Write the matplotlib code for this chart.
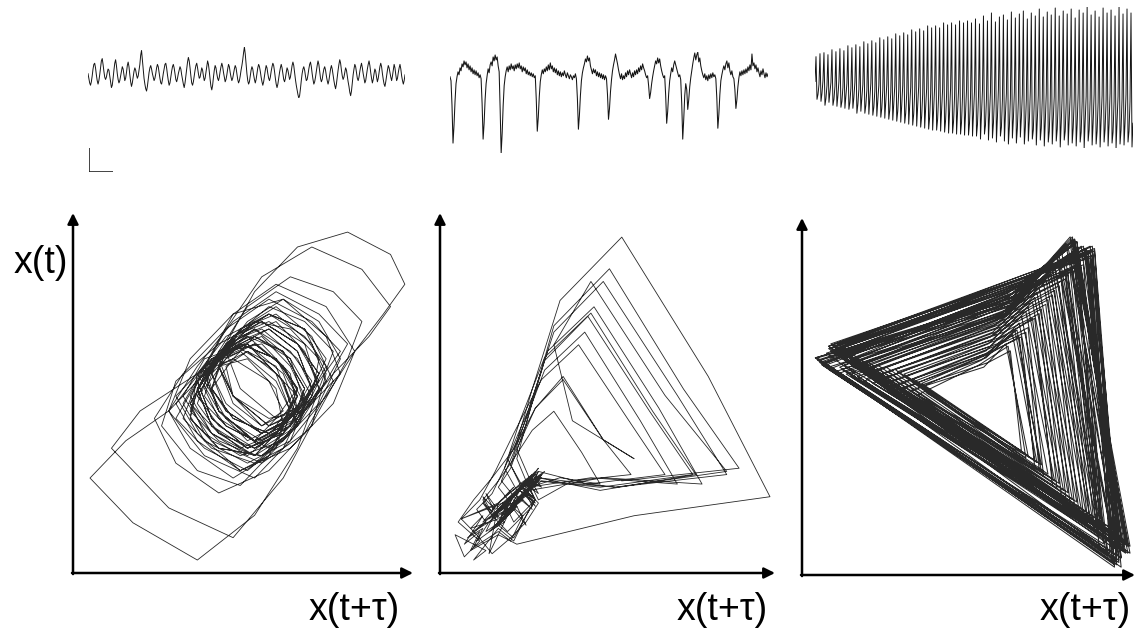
import numpy as np
import matplotlib
matplotlib.use("Agg")
import matplotlib.pyplot as plt

# ---------------- data (read/estimated from the picture) ----------------
# physical sign: positive = downward deflection on the traces (EEG convention)
trace_interictal = [
    0, 4, 8, 10, 7, 2, -4, -8, -9, -5,
    1, 6, 9, 6, 1, -5, -11, -13, -8, -2,
    3, 5, 3, -1, -4, -3, 2, 7, 12, 10, 4,
    -3, -9, -12, -7, 0, 5, 8, 6, 2, -2, -6, -4,
    1, 6, 4, -1, -7, -10, -6, 1, 7, 11, 8, 3,
    -2, -5, -3, 1, 4, 2, -3, -8, -16, -20, -12, -3,
    4, 9, 13, 15, 11, 5, -1, -5, -7, -4, 0,
    3, 6, 4, 0, -5, -8, -6, -1, 4, 8, 9, 5,
    0, -4, -8, -9, -5, 1, 6, 10, 8, 3, -2, -6, -8,
    -5, 0, 5, 7, 4, 0, -3, -6, -4, 1, 5, 9, 12, 8,
    2, -4, -10, -14, -11, -5, 2, 8, 10, 7, 2, -3,
    -7, -9, -5, 0, 4, 3, -1, -5, -3, 2, 6, 4, -1,
    -6, -11, -8, -2, 5, 11, 14, 10, 3, -3, -7, -5,
    0, 4, 6, 3, -2, -6, -9, -6, -1, 3, 7, 5, 1, -4,
    -8, -6, -1, 3, 6, 4, 0, -4, -7, -5, 0, 5, 8, 6,
    2, -3, -7, -12, -18, -23, -17, -8, 0, 6, 9, 7, 2,
    -3, -6, -4, 1, 5, 8, 5, 0, -5, -8, -6, -2, 3,
    7, 10, 7, 2, -3, -7, -5, 0, 4, 6, 3, -2, -6,
    -9, -7, -2, 4, 9, 12, 9, 4, -1, -5, -8, -5,
    0, 5, 7, 4, -1, -5, -3, 1, 5, 3, -2, -7, -10, -7,
    -1, 5, 10, 14, 18, 21, 19, 13, 6, 0, -4, -6, -3,
    2, 6, 5, 1, -4, -8, -10, -6, 0, 5, 9, 7, 3,
    -2, -7, -11, -8, -2, 4, 7, 5, 0, -4, -6, -3, 2,
    6, 9, 6, 1, -4, -7, -4, 1, 6, 10, 13, 9, 3,
    -3, -8, -12, -9, -3, 2, 5, 3, -1, -5, -3, 2, 7,
    11, 16, 19, 15, 8, 1, -4, -8, -6, -1, 4, 6, 3,
    -2, -6, -9, -5, 0, 4, 8, 6, 1, -4, -8, -11, -7,
    -1, 4, 8, 5, 0, -4, -2, 3, 7, 4, -1, -6, -9, -6,
    0, 5, 9, 11, 7, 2, -3, -7, -5, -1, 3, 6, 2, -3,
    -8, -5, 1, 6, 4, -1, -5, -8, -4, 2, 6, 9, 6, 1,
]

trace_spikes = [
    3, 7,
    32, 70, 52, 28, 10,
    3, -2, 1, -6, -3, -10, -7, -13, -9, -12, -6, -10, -4, -8, -2, -6, 0, -4, 1, -3,
    2, -1, 4, 1, 5,
    30, 66, 50, 26, 10,
    2, -5, -1, -9, -12, -8, -17, -13, -19, -14, -17, -8, -2,
    36, 80, 60, 32, 12,
    3, -3, -7, -2, -8, -4, -10, -5, -8, -3, -9, -5, -10, -6, -11, -5, -8, -2, -7, -3,
    -6, 0, -4, 1, -2, 2, -1, 3, 0, 4, 2,
    26, 58, 44, 23, 8,
    1, -4, 0, -5, -2, -7, -3, -9, -4, -11, -5, -8, -2, -6, -1, -5, 1, -3, 2, -2,
    3, -1, 2, -3, 1, 4, -1, 2, 5, 1, 3, 6, 2, 4, 0, 5,
    25, 56, 42, 22, 7,
    -1, -6, -10, -15, -12, -18, -13, -16, -8, -4, 0, -5, -1, -4, 2, -2, 3, -1, 4, 0,
    5, 1, 6, 2, 5,
    21, 46, 35, 18, 6,
    -3, -9, -14, -20, -15, -10, -4, 1, 5, 0, 6, 2, 5, -1, 3, -3, 1, -4, 0, 4,
    -1, 3, -3, 1, -4, 0, -6, -2, -8, -4, -10, -6, -3, 1, 4, 2,
    12, 25, 19, 10, 3,
    -3, -8, -13, -10, -16, -11, -15, -8, -3, 1, 4, 2,
    22, 50, 38, 20, 7,
    0, -6, -2, -9, -13, -9, -5, -1, 3, 1, 6,
    30, 66, 46, 22,
    10, 16, 36, 26, 13, 4,
    -3, -10, -16, -21, -14, -19, -22, -12, -16, -8, -3, 1, 4, 0, 6, 2, 7, 1, 5, 0,
    4, -1, 3, 1, 5,
    25, 55, 41, 21, 7,
    1, -4, -8, -4, -10, -13, -6, -11, -3, 1, -3, 3, 5,
    16, 35, 26, 13, 4,
    -2, 2, -3, 1, -4, 0, -5, -1, -7, -3, -9, -4, -20, -8, -11, -5, -9, -2, -6, -1,
    3, -3, 1, -5, 0, 4, -1, 3, 0,
]

trace_seizure = [
    3, -22, 21, 16, 6, -25, 23, 15, 2, -26, 27, 20, 7, -24, 24, 14,
    4, -29, 27, 21, 8, -27, 28, 17, 3, -30, 29, 23, 9, -28, 30, 18,
    5, -33, 31, 24, 10, -31, 30, 19, 4, -34, 35, 26, 11, -32, 33, 20,
    6, -37, 35, 27, 12, -35, 36, 21, 5, -38, 37, 29, 13, -36, 38, 23,
    7, -41, 39, 30, 12, -39, 40, 24, 6, -42, 41, 32, 14, -40, 42, 26,
    8, -45, 43, 33, 13, -43, 44, 27, 7, -46, 45, 35, 15, -44, 46, 28,
    9, -49, 47, 36, 14, -47, 48, 29, 8, -50, 49, 38, 16, -48, 50, 31,
    10, -53, 51, 39, 15, -51, 52, 32, 9, -53, 52, 41, 17, -51, 53, 33,
    11, -56, 54, 42, 16, -54, 55, 34, 10, -56, 55, 43, 18, -54, 56, 35,
    12, -58, 56, 44, 17, -56, 57, 36, 11, -58, 57, 45, 19, -56, 58, 36,
    13, -60, 58, 46, 18, -55, 61, 37, 12, -63, 56, 47, 20, -58, 62, 38,
    14, -66, 60, 45, 19, -57, 64, 39, 11, -62, 58, 49, 21, -64, 63, 37,
    15, -59, 66, 48, 20, -67, 60, 41, 14, -61, 65, 50, 22, -65, 59, 40,
    16, -68, 66, 49, 21, -60, 63, 43, 13, -66, 61, 52, 22, -63, 67, 41,
    17, -70, 62, 50, 20, -62, 68, 44, 15, -67, 64, 53, 23, -64, 66, 42,
    18, -71, 63, 51, 21, -63, 69, 45, 16, -68, 62, 53, 24, -65, 67, 43,
    17, -70, 65, 50, 22, -61, 68, 46, 15, -69, 64, 54, 23, -66, 70, 43,
    18, -72, 63, 52, 21, -64, 67, 45, 16, -68, 66, 53, 24, -62, 69, 44,
    17, -71, 64, 51, 22, -66, 68, 46, 15, -69, 65, 54, 23, -63, 70, 44,
    18, -72, 66, 52, 21, -65, 67, 45, 16, -70, 64, 53, 23, -66, 69, 45,
]

traces = [trace_interictal, trace_spikes, trace_seizure]
lags = [2, 2, 1]                      # delay tau in samples
x_label = "x(t+\u03c4)"
y_label = "x(t)"
scale_bar_x = [0, 0, 1]
scale_bar_y = [1, 0, 0]

# ---------------- layout (pixels) ----------------
W, H = 1136, 636
fig = plt.figure(figsize=(W / 100, H / 100), dpi=100)
fig.patch.set_facecolor("white")


def px_axes(l, t, r, b):
    return fig.add_axes([l / W, 1 - b / H, (r - l) / W, (b - t) / H])


trace_boxes = [(88, 47, 405, 98), (450, 52, 768, 153), (815, 7, 1133, 148)]
trace_lw = [0.7, 0.75, 0.7]
for d, box, lw in zip(traces, trace_boxes, trace_lw):
    ax = px_axes(*box)
    d = np.asarray(d, float)
    ax.plot(np.arange(len(d)), d, color="#151515", lw=lw)
    ax.set_xlim(0, len(d) - 1)
    ax.set_ylim(d.max(), d.min())      # negative up
    ax.axis("off")

# calibration bar
axs = px_axes(89, 148, 113, 172)
axs.plot(scale_bar_x, scale_bar_y, color="#222", lw=1.2, solid_capstyle="butt")
axs.set_xlim(0, 1)
axs.set_ylim(0, 1)
axs.axis("off")

portrait_boxes = [(73, 213, 413, 573), (440, 213, 775, 573), (802, 218, 1135, 575)]
data_frac = [((0.05, 0.976), (0.036, 0.947)),
             ((0.045, 0.985), (0.036, 0.933)),
             ((0.04, 0.985), (0.022, 0.947))]
portrait_lw = [0.6, 0.6, 0.75]


def fit_lim(lo, hi, f0, f1):
    span = (hi - lo) / (f1 - f0)
    return lo - f0 * span, lo + (1 - f0) * span


for d, lag, box, (fx, fy), lw in zip(traces, lags, portrait_boxes, data_frac, portrait_lw):
    ax = px_axes(*box)
    d = np.asarray(d, float)
    xs, ys = d[lag:], d[:-lag]
    ax.plot(xs, ys, color="#111111", lw=lw, alpha=0.9)
    ax.set_xlim(*fit_lim(xs.min(), xs.max(), *fx))
    ax.set_ylim(*fit_lim(ys.min(), ys.max(), *fy))
    ax.axis("off")
    ap = dict(arrowstyle="-|>", color="black", lw=1.8, mutation_scale=16,
              shrinkA=0, shrinkB=0)
    ax.annotate("", xy=(1, 0), xytext=(-0.003, 0), xycoords="axes fraction",
                arrowprops=ap, annotation_clip=False)
    ax.annotate("", xy=(0, 1), xytext=(0, -0.003), xycoords="axes fraction",
                arrowprops=ap, annotation_clip=False)

font = dict(family=["Liberation Sans", "DejaVu Sans"], fontsize=27)
fig.text(41 / W, 1 - 263 / H, y_label, ha="center", va="center", **font)
for cx in (354, 722, 1085):
    fig.text(cx / W, 1 - 610 / H, x_label, ha="center", va="center", **font)

fig.savefig("out.png", dpi=100, facecolor="white")
